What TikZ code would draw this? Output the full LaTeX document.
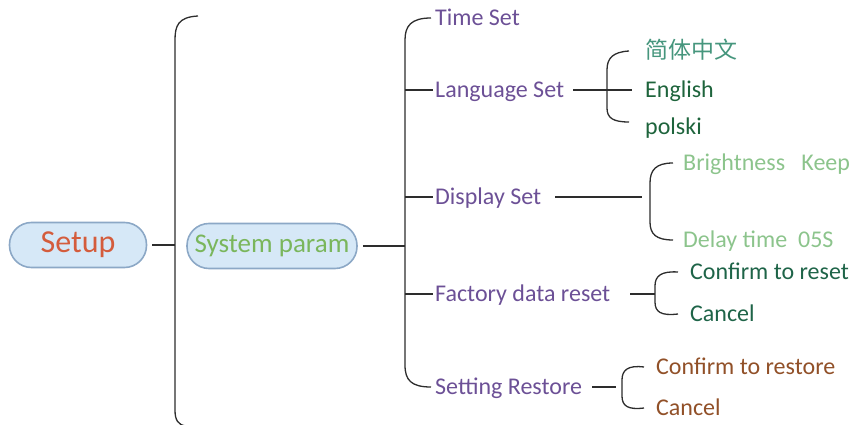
\documentclass[tikz,border=0pt]{standalone}
\usepackage{fontspec}
\setmainfont{Carlito}
\newfontfamily\cjk{Noto Sans CJK SC}
\definecolor{linecol}{RGB}{45,45,45}
\definecolor{purp}{RGB}{108,80,150}
\definecolor{setupred}{RGB}{212,92,60}
\definecolor{sysgreen}{RGB}{122,182,92}
\definecolor{bubfill}{RGB}{214,232,247}
\definecolor{bubdraw}{RGB}{140,168,198}
\definecolor{cngreen}{RGB}{70,150,125}
\definecolor{dkgreen}{RGB}{30,100,60}
\definecolor{ltgreen}{RGB}{140,196,140}
\definecolor{cfgreen}{RGB}{30,100,72}
\definecolor{brown}{RGB}{145,80,40}
\begin{document}
\begin{tikzpicture}[x=1pt,y=-1pt,
  conn/.style={draw=linecol,line width=1.3pt},
  bubble/.style={draw=bubdraw,fill=bubfill,line width=1.6pt,rounded corners=22pt,minimum height=45pt,inner sep=0pt},
  lbl/.style={anchor=west,inner sep=0pt,font=\fontsize{24}{26}\selectfont,text height=15pt,text depth=0pt},
  purplbl/.style={lbl,text=purp}]
\useasboundingbox (0,0) rectangle (860,425);
% main bubbles
\node[bubble,minimum width=137pt,text=setupred,font=\fontsize{32}{34}\selectfont] (setup) at (78,245) {Setup};
\node[bubble,minimum width=170pt,text=sysgreen,font=\fontsize{27}{29}\selectfont] (sys) at (272,246) {System param};
% left bracket
\coordinate (b1) at (175,245);
\coordinate (b1top) at (198,16);
\coordinate (b1bot) at (186,426);
\draw[conn] (b1top) .. controls (178,17) and (175,26) .. (175,40) -- (175,410) .. controls (175,420) and (178,425) .. (b1bot);
\draw[conn] ([xshift=5pt]setup.east) -- (b1);
% second level labels
\node[purplbl] (time) at (435,18) {Time Set};
\node[purplbl] (lang) at (435,90) {Language Set};
\node[purplbl] (disp) at (435,197) {Display Set};
\node[purplbl] (fact) at (435,294) {Factory data reset};
\node[purplbl] (sett) at (435,387) {Setting Restore};
% right bracket
\coordinate (b2) at (405,246);
\draw[conn] ([xshift=5pt]sys.east) -- (b2);
\draw[conn] ([xshift=-4pt]time.west) .. controls (411,18) and (405,26) .. (405,40)
  -- (405,365) .. controls (405,380) and (411,387) .. ([xshift=-4pt]sett.west);
\draw[conn] (b2 |- lang.west) -- ([xshift=-2pt]lang.west);
\draw[conn] (b2 |- disp.west) -- ([xshift=-2pt]disp.west);
\draw[conn] (b2 |- fact.west) -- ([xshift=-2pt]fact.west);
% language subtree
\node[lbl,text=cngreen,font=\cjk\fontsize{23}{26}\selectfont] (cn) at (645,51) {简体中文};
\node[lbl,text=dkgreen] (en) at (645,90) {English};
\node[lbl,text=dkgreen] (pl) at (645,127) {polski};
\coordinate (b3) at (607,90);
\draw[conn] ([xshift=9pt]lang.east) -- (b3) -- ([xshift=-13pt]en.west);
\draw[conn] ([xshift=-16pt]cn.west) .. controls (613,52) and (607,58) .. (607,70)
  -- (607,108) .. controls (607,118) and (613,122) .. (629,122);
% display subtree
\node[lbl,text=ltgreen] (bright) at (683,163) {Brightness\ \ \ Keep};
\node[lbl,text=ltgreen] (delay) at (683,240) {Delay time\ \ 05S};
\coordinate (b4) at (650,197);
\draw[conn] ([xshift=14pt]disp.east) -- ([xshift=-8pt]b4);
\draw[conn] ([xshift=-10pt]bright.west) .. controls (656,163) and (650,170) .. (650,183)
  -- (650,222) .. controls (650,234) and (656,240) .. ([xshift=-10pt]delay.west);
% factory subtree
\node[lbl,text=cfgreen] (conf1) at (690,272) {Confirm to reset};
\node[lbl,text=cfgreen] (canc1) at (690,314) {Cancel};
\coordinate (b5) at (655,294);
\draw[conn] ([xshift=20pt]fact.east) -- (b5);
\draw[conn] ([xshift=-12pt]conf1.west) .. controls (661,271) and (655,276) .. (655,286)
  -- (655,302) .. controls (655,312) and (661,316) .. ([xshift=-12pt]canc1.west);
% setting restore subtree
\node[lbl,text=brown] (conf2) at (656,367) {Confirm to restore};
\node[lbl,text=brown] (canc2) at (656,408) {Cancel};
\coordinate (b6) at (622,387);
\draw[conn] ([xshift=10pt]sett.east) -- ([xshift=-6pt]b6);
\draw[conn] ([xshift=-12pt]conf2.west) .. controls (628,365) and (622,370) .. (622,380)
  -- (622,396) .. controls (622,406) and (628,410) .. ([xshift=-12pt]canc2.west);
\end{tikzpicture}
\end{document}
